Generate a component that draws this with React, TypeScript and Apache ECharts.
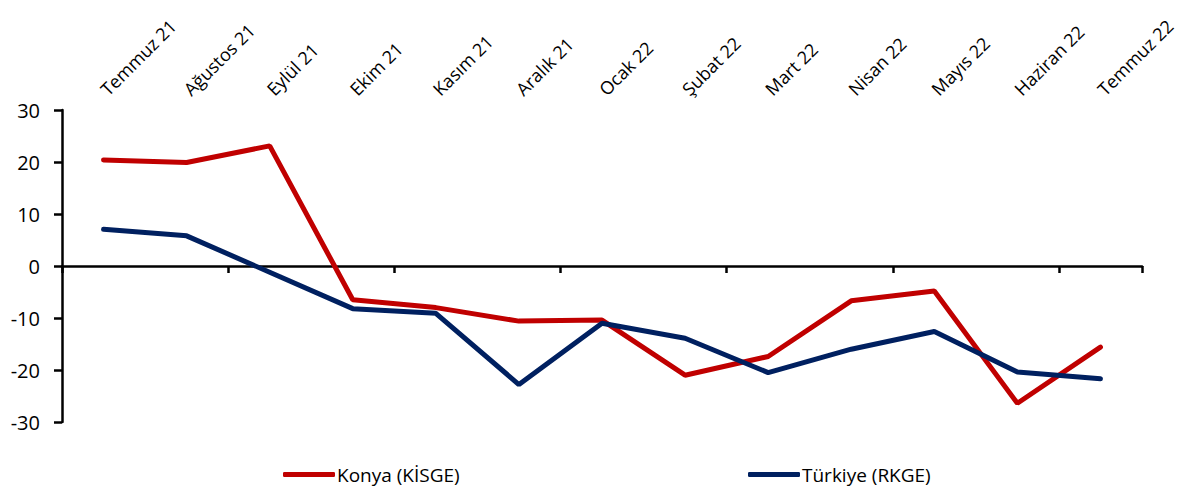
import React, { useEffect, useRef } from "react";
import * as echarts from "echarts";

const categories = [
  "Temmuz 21", "Ağustos 21", "Eylül 21", "Ekim 21", "Kasım 21", "Aralık 21",
  "Ocak 22", "Şubat 22", "Mart 22", "Nisan 22", "Mayıs 22", "Haziran 22", "Temmuz 22",
];
const konya = [20.4, 19.9, 23.1, -6.5, -8.0, -10.6, -10.4, -21.0, -17.4, -6.7, -4.8, -26.4, -15.6];
const turkiye = [7.05, 5.8, -1.2, -8.2, -9.1, -22.8, -11.0, -13.9, -20.5, -16.0, -12.6, -20.4, -21.7];
const yTicks = { min: -30, max: 30, interval: 10 };

const FONT = "Open Sans";

export default function App() {
  const ref = useRef<HTMLDivElement>(null);
  useEffect(() => {
    if (!ref.current) return;
    const chart = echarts.init(ref.current, null, { renderer: "svg" });
    chart.setOption({
      animation: false,
      backgroundColor: "#fff",
      textStyle: { fontFamily: FONT, color: "#000" },
      grid: { left: 62, right: 39, top: 110, bottom: 70, containLabel: false },
      legend: [
        {
          left: 283, top: 465, padding: 0, data: ["Konya (KİSGE)"], icon: "roundRect",
          itemWidth: 52, itemHeight: 5, itemGap: 0,
          textStyle: { fontFamily: FONT, fontSize: 19, color: "#000", padding: [0, 0, 0, -3] },
        },
        {
          left: 748, top: 465, padding: 0, data: ["Türkiye (RKGE)"], icon: "roundRect",
          itemWidth: 52, itemHeight: 5, itemGap: 0,
          textStyle: { fontFamily: FONT, fontSize: 19, color: "#000", padding: [0, 0, 0, -3] },
        },
      ],
      xAxis: [
        {
          type: "category", data: categories, boundaryGap: true, position: "bottom",
          axisLine: { show: true, onZero: true, lineStyle: { color: "#000", width: 2.5 } },
          axisTick: { show: true, inside: false, length: 7, lineStyle: { color: "#000", width: 2.5 } },
          axisLabel: { show: false },
          splitLine: { show: false },
        },
        {
          type: "category", data: categories, boundaryGap: true, position: "top",
          axisLine: { show: false, onZero: false },
          axisTick: { show: false },
          axisLabel: { show: true, rotate: -45, margin: 18, interval: 0, fontFamily: FONT, fontSize: 18, color: "#000" },
          splitLine: { show: false },
        },
      ],
      yAxis: {
        type: "value", min: yTicks.min, max: yTicks.max, interval: yTicks.interval,
        axisLine: { show: true, lineStyle: { color: "#000", width: 2.5 } },
        axisTick: { show: true, inside: false, length: 8, lineStyle: { color: "#000", width: 2.5 } },
        axisLabel: { margin: 22, fontFamily: FONT, fontSize: 20, color: "#000" },
        splitLine: { show: false },
      },
      series: [
        {
          name: "Konya (KİSGE)", type: "line", data: konya, xAxisIndex: 0, symbol: "none",
          itemStyle: { color: "#C00000" },
          lineStyle: { color: "#C00000", width: 5, cap: "round" },
        },
        {
          name: "Türkiye (RKGE)", type: "line", data: turkiye, xAxisIndex: 0, symbol: "none",
          itemStyle: { color: "#002060" },
          lineStyle: { color: "#002060", width: 5, cap: "round" },
        },
      ],
    });
    return () => chart.dispose();
  }, []);
  return <div ref={ref} style={{ width: 1181, height: 492, position: "absolute", left: 0, top: 0 }} />;
}
